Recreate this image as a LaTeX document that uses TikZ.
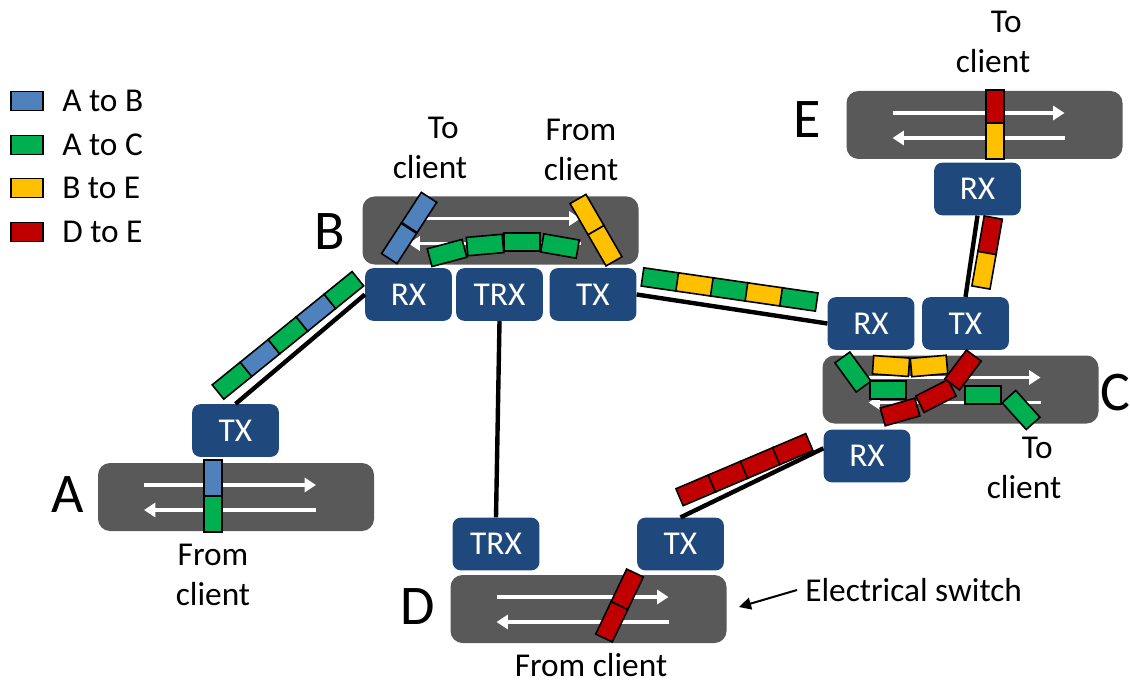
\documentclass[tikz,border=0pt]{standalone}
\usepackage{fontspec}
\setmainfont{Carlito}
\usetikzlibrary{arrows.meta}
\definecolor{swgray}{HTML}{595959}
\definecolor{trblue}{HTML}{1F497D}
\definecolor{pblue}{HTML}{4F81BD}
\definecolor{pgreen}{HTML}{00B050}
\definecolor{pyellow}{HTML}{FFC000}
\definecolor{pred}{HTML}{C00000}
\begin{document}
\begin{tikzpicture}[x=0.75pt,y=-0.75pt,
  switchbox/.style={fill=swgray, rounded corners=9pt, minimum width=207pt, minimum height=51pt, inner sep=0pt},
  trx/.style={fill=trblue, rounded corners=6pt, minimum width=65pt, minimum height=39.5pt, inner sep=0pt, text=white, font=\fontsize{25}{30}\selectfont},
  pkt/.style={draw=black, line width=1.2pt, minimum width=27pt, minimum height=13.8pt, inner sep=0pt, transform shape},
  swatch/.style={draw=black, line width=1.2pt, minimum width=24pt, minimum height=14pt, inner sep=0pt},
  flow/.style={draw=white, line width=2.3pt, -{Triangle[length=8.5pt,width=10.5pt]}},
  link/.style={draw=black, line width=3.3pt},
  lbl/.style={font=\fontsize{25}{30}\selectfont, align=center, inner sep=0pt},
  big/.style={font=\fontsize{42}{48}\selectfont, inner sep=0pt}
]
\useasboundingbox (0,0) rectangle (1130,684);

% switches
\node[switchbox] (swA) at (236,497) {};
\node[switchbox] (swB) at (500.5,230.5) {};
\node[switchbox] (swC) at (960.5,389.5) {};
\node[switchbox] (swD) at (588.5,609) {};
\node[switchbox] (swE) at (984.5,125) {};
\foreach \s in {swA,swB,swC,swD,swE}{
  \draw[flow] ([shift={(-92,-12)}]\s.center) -- ([shift={(80,-12)}]\s.center);
  \draw[flow] ([shift={(80,13)}]\s.center) -- ([shift={(-92,13)}]\s.center);
}

% transceivers
\node[trx] (aTX) at (235.5,430.5) {TX};
\node[trx] (bRX) at (408.5,294.5) {RX};
\node[trx] (bTRX) at (499.5,294.5) {TRX};
\node[trx] (bTX) at (593,294.5) {TX};
\node[trx] (cRX) at (871,323.5) {RX};
\node[trx] (cTX) at (965.5,323.5) {TX};
\node[trx] (cRXb) at (867,456) {RX};
\node[trx] (dTRX) at (496,544) {TRX};
\node[trx] (dTX) at (680.5,544) {TX};
\node[trx] (eRX) at (977.5,189) {RX};

% fibre links
\draw[link] (aTX.north) -- (bRX.west);
\draw[link] (bTX.east) -- (cRX.west);
\draw[link] (cTX.north) -- (eRX.south);
\draw[link] (dTX.north) -- (cRXb.170);
\draw[link] (bTRX.south) -- (dTRX.north);

% packets at A
\node[pkt,fill=pblue,rotate=90] (a1) at (213,478) {};
\node[pkt,fill=pgreen,rotate=90] (a2) at (213,514) {};

% link A -> B
\begin{scope}[shift={(218,392)},rotate=39]
  \node[pkt,fill=pgreen] (ab1) at (18,0) {};
  \node[pkt,fill=pblue]  (ab2) at (54,0) {};
  \node[pkt,fill=pgreen] (ab3) at (90,0) {};
  \node[pkt,fill=pblue]  (ab4) at (126,0) {};
  \node[pkt,fill=pgreen] (ab5) at (162,0) {};
\end{scope}

% packets at B
\begin{scope}[shift={(389,259)},rotate=57]
  \node[pkt,fill=pblue] (bb1) at (18.5,0) {};
  \node[pkt,fill=pblue] (bb2) at (55.5,0) {};
\end{scope}
\begin{scope}[shift={(578,199)},rotate=-60]
  \node[pkt,fill=pyellow] (by1) at (18,0) {};
  \node[pkt,fill=pyellow] (by2) at (54,0) {};
\end{scope}
\node[pkt,fill=pgreen,rotate=15]  (bg1) at (447,253) {};
\node[pkt,fill=pgreen,rotate=5]   (bg2) at (485,245) {};
\node[pkt,fill=pgreen]            (bg3) at (522,242) {};
\node[pkt,fill=pgreen,rotate=-10] (bg4) at (560,246) {};

% link B -> C
\begin{scope}[shift={(643,277)},rotate=-8.2]
  \node[pkt,fill=pgreen]  (bc1) at (17.5,0) {};
  \node[pkt,fill=pyellow] (bc2) at (52.5,0) {};
  \node[pkt,fill=pgreen]  (bc3) at (87.5,0) {};
  \node[pkt,fill=pyellow] (bc4) at (122.5,0) {};
  \node[pkt,fill=pgreen]  (bc5) at (157.5,0) {};
\end{scope}

% packets at C
\node[pkt,fill=pgreen,rotate=-54] (cg1) at (853,372) {};
\node[pkt,fill=pgreen]            (cg2) at (888,390) {};
\node[pkt,fill=pyellow,rotate=-4] (cy1) at (891,366) {};
\node[pkt,fill=pyellow,rotate=5]  (cy2) at (929,366) {};
\node[pkt,fill=pgreen]            (cg3) at (983,395) {};
\node[pkt,fill=pgreen,rotate=-48] (cg4) at (1021,410) {};
\node[pkt,fill=pred,rotate=16]    (cr1) at (900,412) {};
\node[pkt,fill=pred,rotate=27]    (cr2) at (936,396) {};
\node[pkt,fill=pred,rotate=53]    (cr3) at (963,370) {};

% link C -> E
\begin{scope}[shift={(981,287)},rotate=80]
  \node[pkt,fill=pyellow] (ce1) at (17.5,0) {};
  \node[pkt,fill=pred]    (ce2) at (52.5,0) {};
\end{scope}

% packets at E
\node[pkt,fill=pred,rotate=90]    (e1) at (995,108) {};
\node[pkt,fill=pyellow,rotate=90] (e2) at (995,141) {};

% link D -> C
\begin{scope}[shift={(680,497)},rotate=23]
  \node[pkt,fill=pred] (dc1) at (17.5,0) {};
  \node[pkt,fill=pred] (dc2) at (52.5,0) {};
  \node[pkt,fill=pred] (dc3) at (87.5,0) {};
  \node[pkt,fill=pred] (dc4) at (122.5,0) {};
\end{scope}

% packets at D
\begin{scope}[shift={(604,638)},rotate=64.5]
  \node[pkt,fill=pred] (dd1) at (18,0) {};
  \node[pkt,fill=pred] (dd2) at (54,0) {};
\end{scope}

% legend
\foreach \y/\c/\t/\n in {101/pblue/A to B/1, 145/pgreen/A to C/2, 188/pyellow/B to E/3, 232/pred/D to E/4}{
  \node[swatch,fill=\c] (key\n) at (27,\y) {};
  \node[lbl,anchor=west] (leg\n) at (62,\y) {\t};
}

% node names
\node[big] (nA) at (68,495) {A};
\node[big] (nB) at (330,232) {B};
\node[big] (nC) at (1115,393) {C};
\node[big] (nD) at (418,607) {D};
\node[big] (nE) at (807,120) {E};

% client labels
\node[lbl] (tB) at (430,148) {\hspace*{0.8em}To\\client};
\node[lbl] (fB) at (581,150) {From\\client};
\node[lbl] (tE) at (993,42) {\hspace*{0.8em}To\\client};
\node[lbl] (tC) at (1024,468) {\hspace*{0.8em}To\\client};
\node[lbl] (fA) at (213,575) {From\\client};
\node[lbl] (fD) at (591,665) {From client};

% electrical switch callout
\node[lbl,anchor=west] (es) at (805,590) {Electrical switch};
\coordinate (esTip) at (739,607);
\draw[line width=1.5pt,-{Triangle[length=9pt,width=9pt]}] ([xshift=-6pt]es.west) -- (esTip);
\end{tikzpicture}
\end{document}
